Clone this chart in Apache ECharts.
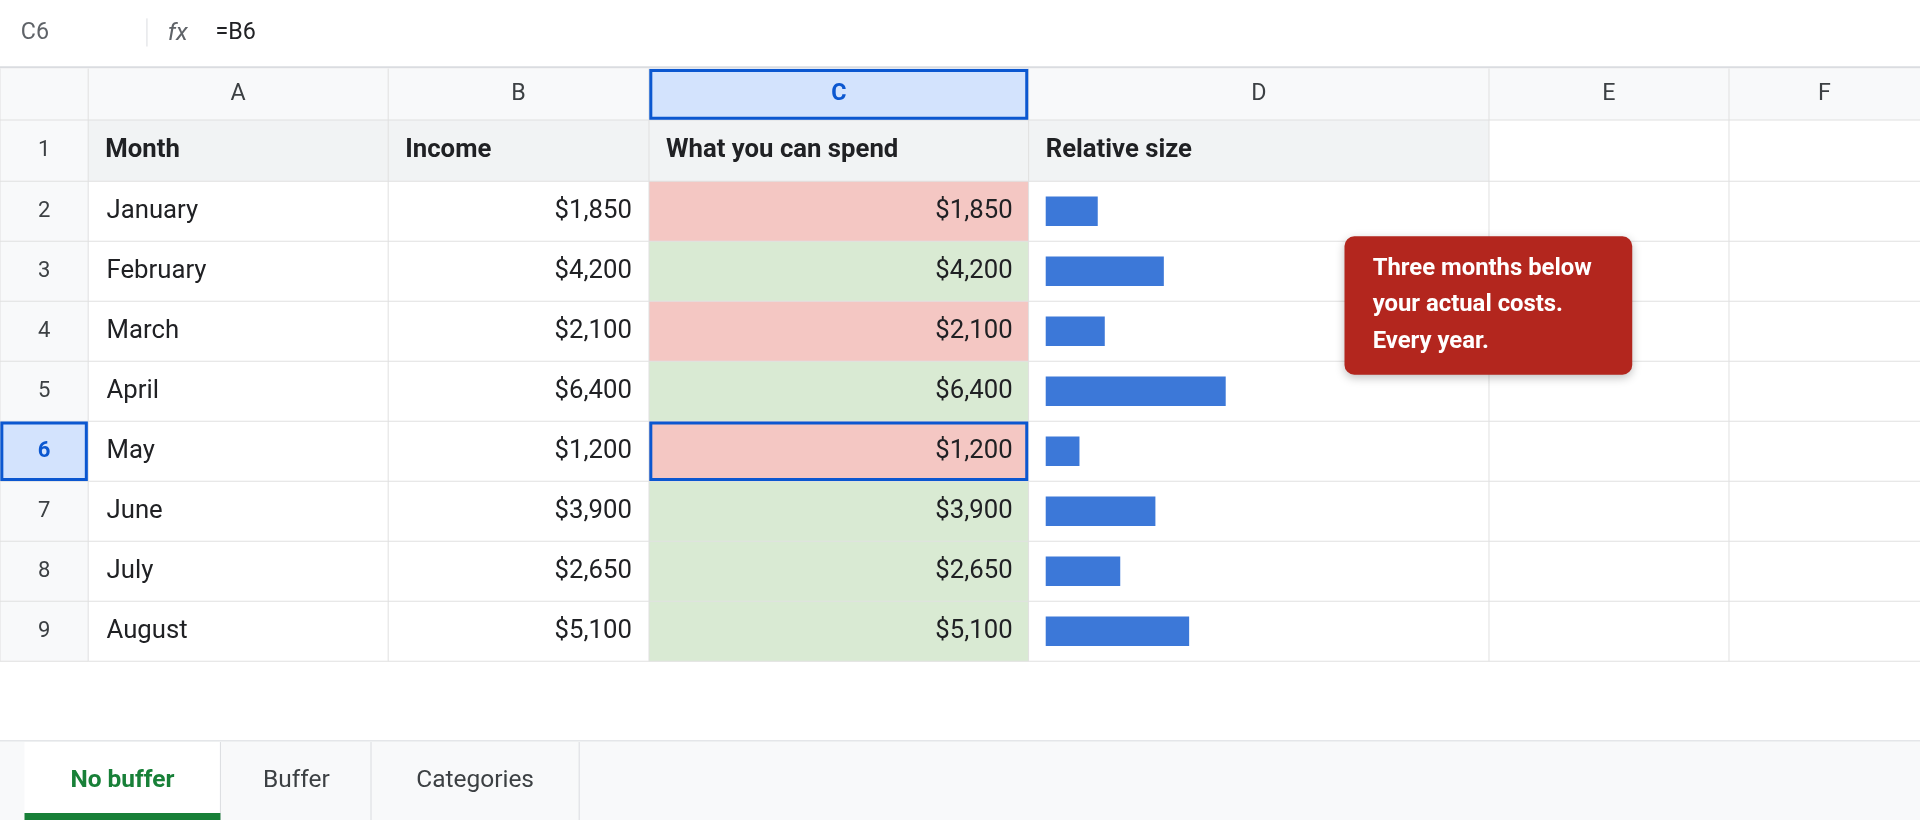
<!DOCTYPE html>
<html><head><meta charset="utf-8">
<script src="https://cdn.jsdelivr.net/npm/echarts@6/dist/echarts.min.js"></script>
<style>html,body{margin:0;padding:0;background:#fff}#c{width:1920px;height:820px}</style>
</head><body><div id="c"></div>
<script>
const months=["January","February","March","April","May","June","July","August"];
const income=[1850,4200,2100,6400,1200,3900,2650,5100];
const spend=[1850,4200,2100,6400,1200,3900,2650,5100];
const belowCost=[true,false,true,false,true,false,false,false];
const colLetters=["A","B","C","D","E","F"];
const headers=["Month","Income","What you can spend","Relative size"];
const tabs=["No buffer","Buffer","Categories"];
const note=["Three months below","your actual costs.","Every year."];

const S=1920/1568;
const p=v=>v*S;
const FONT="Roboto, 'Liberation Sans', sans-serif";
const cols=[0,72,317,530,840,1216,1412,1568];
const rowTop=r=>r===0?56:(r===1?98:148+(r-2)*49);
const rowBot=r=>r===0?98:(r===1?148:148+(r-1)*49);
const G=[];
function rect(x,y,w,h,fill,stroke,lw,z,r){G.push({type:'rect',z:z||1,shape:{x:p(x),y:p(y),width:p(w),height:p(h),r:r?p(r):0},style:{fill:fill||'none',stroke:stroke||null,lineWidth:lw||1}});}
function line(x1,y1,x2,y2,c,lw,z){G.push({type:'line',z:z||2,shape:{x1:p(x1),y1:p(y1),x2:p(x2),y2:p(y2)},style:{stroke:c,lineWidth:lw||1}});}
function text(t,x,y,size,color,align,weight,z,style){G.push({type:'text',z:z||5,style:{text:t,x:p(x),y:p(y),fill:color||'#202124',font:(style||'normal')+' '+(weight||'normal')+' '+p(size)+'px '+FONT,textAlign:align||'left',textVerticalAlign:'middle'}});}
const fmt=v=>'$'+v.toLocaleString('en-US');

// formula bar
text("C6",17,27,19,'#5f6368');
line(120,15,120,38,'#dadce0',1);
text("fx",137,28,20,'#5f6368','left','normal',5,'italic');
text("=B6",176,27,19,'#202124');
line(0,55,1568,55,'#dadce0',2);
// header row & row number column bg
rect(0,56,1568,42,'#f8f9fa');
rect(0,98,72,442,'#f8f9fa');
rect(72,98,1144,50,'#f1f3f4');
// cell fills
for(let i=0;i<8;i++){rect(530,rowTop(i+2),310,49,belowCost[i]?'#f4c7c3':'#d9ead3');}
// selected column header
rect(530,56,310,42,'#d3e3fd');
rect(0,344,72,49,'#d3e3fd');
// grid lines
for(let r=0;r<=9;r++){line(0,rowBot(r),1568,rowBot(r),'#e0e0e0',1);}
for(let c=1;c<cols.length-1;c++){line(cols[c],56,cols[c],540,'#e0e0e0',1);}
line(0,56,0,540,'#e0e0e0',1);
// selection borders
rect(531.5,57.5,307,39,null,'#0b57d0',3,6);
rect(531.5,345.5,307,46,null,'#0b57d0',3,6);
rect(1.5,345.5,69,46,null,'#0b57d0',3,6);
// column letters
for(let c=0;c<6;c++){text(colLetters[c],(cols[c+1]+cols[c+2])/2,77,19,c===2?'#0b57d0':'#3c4043','center',c===2?'bold':'normal');}
// row numbers
for(let r=1;r<=9;r++){text(String(r),36,(rowTop(r)+rowBot(r))/2,18,r===6?'#0b57d0':'#3c4043','center',r===6?'bold':'normal');}
// headers
for(let c=0;c<4;c++){text(headers[c],cols[c+1]+14,123,21,'#202124','left','bold');}
// data
for(let i=0;i<8;i++){const y=(rowTop(i+2)+rowBot(i+2))/2;
 text(months[i],87,y,21,'#202124');
 text(fmt(income[i]),516,y,21,'#202124','right');
 text(fmt(spend[i]),827,y,21,'#202124','right');}
// note
G.push({type:'rect',z:9,shape:{x:p(1098),y:p(193),width:p(235),height:p(113),r:p(8)},style:{fill:'#b3261e',shadowBlur:10,shadowColor:'rgba(0,0,0,0.25)',shadowOffsetY:3}});
note.forEach((t,i)=>text(t,1121,220+i*29.5,19.5,'#ffffff','left','bold',10));
// tabs
rect(0,605,1568,65,'#f8f9fa');
line(0,605,1568,605,'#dadce0',1);
rect(20,606,160,64,'#ffffff');
rect(20,664,160,6,'#188038',null,1,3);
line(180,606,180,670,'#dadce0');line(303,606,303,670,'#dadce0');line(473,606,473,670,'#dadce0');
text(tabs[0],100,638,20,'#188038','center','bold');
text(tabs[1],242,638,20,'#3c4043','center');
text(tabs[2],388,638,20,'#3c4043','center');

const chart=echarts.init(document.getElementById('c'));
chart.setOption({
 animation:false,
 grid:{left:p(854),top:p(148),width:p(147),height:p(392),containLabel:false},
 xAxis:{type:'value',min:0,max:6400,show:false},
 yAxis:{type:'category',data:months,inverse:true,show:false},
 series:[{type:'bar',data:spend,barWidth:p(24),itemStyle:{color:'#3c78d8'},z:4}],
 graphic:G
});
</script></body></html>
